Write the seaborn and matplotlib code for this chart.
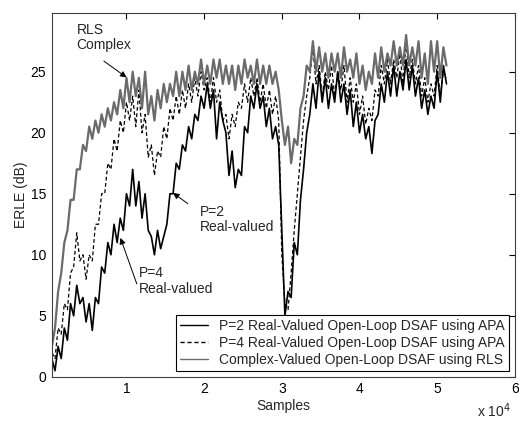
import numpy as np
import pandas as pd
import matplotlib
matplotlib.use("Agg")
import matplotlib.pyplot as plt
import seaborn as sns

# sample grid (x 10^4 samples), one point every 400 samples
samples = np.arange(129) * 0.04

rls_complex = [
    0, 2.5, 4, 7, 8.5, 11, 12, 14.5, 14.5, 17,
    17, 19, 18.5, 20.5, 19.5, 21, 20, 21.5, 20.5, 22,
    21, 22.5, 21.5, 23.5, 22, 24.5, 22.5, 25, 23, 24.5,
    22, 25, 21.5, 23, 21, 23.5, 22, 24, 22.5, 24,
    23, 25, 23, 25, 23.5, 25.5, 23.5, 25, 24, 26,
    24, 25.5, 24, 26, 24.5, 26, 24, 25.5, 24, 25.5,
    23.5, 25.5, 24, 26, 24.5, 25.5, 24, 26, 24, 25.5,
    24, 25.5, 24, 25, 23.5, 21, 19, 20.5, 17.5, 19.5,
    19, 22, 23, 25.5, 25, 27.5, 25, 27, 25, 26.5,
    24.5, 26.5, 25, 26.5, 24.5, 27, 25, 26, 24.5, 26.5,
    24, 25.5, 23.5, 25, 24, 26.5, 24.5, 27, 25, 26.5,
    25.5, 27.5, 25.5, 27, 25.5, 28, 25.5, 27, 25.5, 27.5,
    24.5, 26.5, 24, 27.5, 25, 27.5, 24.5, 27, 25.5,
]

apa_p2 = [
    0, 1.5, 0.5, 2.5, 1.5, 4, 3, 6, 5, 7.5,
    6, 6.5, 4.5, 6, 3.8, 6.5, 6, 9, 8.5, 11,
    10, 12.5, 11, 13, 12, 15, 14, 17, 14, 16,
    13, 15, 12, 11.5, 10, 12, 10.5, 11.5, 12.5, 15,
    15, 17.5, 17, 19, 18.5, 20.5, 19.5, 21.5, 21, 23,
    22, 24, 22, 23.5, 19.5, 22.5, 21, 20, 16.5, 18.5,
    15.5, 17, 16.5, 20.5, 20, 23, 22, 24, 22, 23,
    20.5, 22, 19.5, 20.5, 19, 12, 5, 7, 6.5, 11,
    10, 14.5, 17, 20, 21.5, 24, 22, 25, 22.5, 24.5,
    22, 24, 22.5, 25, 22.5, 24, 21.5, 23.5, 20.5, 22.5,
    20, 21.5, 19.5, 20.5, 18.3, 21, 21.5, 24, 22.5, 25,
    23, 25.5, 23, 25, 23.5, 26, 23.5, 25.5, 23, 24.5,
    22, 23.5, 21.5, 23, 22, 25, 22.5, 25.5, 24,
]

apa_p4 = [
    0, 2, 1.5, 4, 3.5, 6, 5.5, 8.5, 9, 11.8,
    9.5, 10, 8, 10, 9.5, 12.5, 12.5, 15, 15, 17.5,
    17, 19.5, 18.5, 21, 20, 22.5, 21, 23, 20.5, 23.5,
    20, 21.5, 18, 19, 16.5, 18.5, 18, 20.5, 19.5, 22,
    21, 23, 21.5, 23.5, 22, 24, 22.5, 24.5, 23, 25,
    23.5, 24.5, 22.5, 24.5, 22.5, 23.5, 21, 21.5, 19.5, 21.5,
    20.5, 22.5, 22, 24, 22.5, 24.5, 23, 24.5, 22.5, 24,
    22, 23.5, 21.5, 23, 21, 10, 6, 5.5, 8.5, 12,
    15, 18, 21, 23, 24.5, 27, 24, 25.5, 23, 25,
    23.5, 25.5, 23, 25, 23.5, 25.5, 22.5, 24.5, 22.5, 24,
    21.5, 23, 20.7, 22, 21, 23.5, 23, 25.5, 24, 26,
    24, 26, 24.5, 26.5, 24, 27.5, 24.5, 26, 24, 25.5,
    23, 24.5, 22.5, 24, 23, 25.5, 23, 25, 24.5,
]

labels = [
    "P=2 Real-Valued Open-Loop DSAF using APA",
    "P=4 Real-Valued Open-Loop DSAF using APA",
    "Complex-Valued Open-Loop DSAF using RLS",
]
xticks = [1, 2, 3, 4, 5, 6]
yticks = [0, 5, 10, 15, 20, 25]

sns.set_theme(style="white")
plt.rcParams["font.family"] = ["Liberation Sans", "DejaVu Sans"]
plt.rcParams["font.size"] = 10

fig = plt.figure(figsize=(5.19, 4.22), dpi=100)
ax = fig.add_axes([0.100, 0.107, 0.892, 0.862])

df = pd.DataFrame({"x": samples, "p2": apa_p2, "p4": apa_p4, "rls": rls_complex})

sns.lineplot(data=df, x="x", y="p2", ax=ax, color="black", lw=1.2,
             label=labels[0], estimator=None, sort=False)
sns.lineplot(data=df, x="x", y="p4", ax=ax, color="black", lw=0.9,
             linestyle=(0, (3, 2)), label=labels[1], estimator=None, sort=False)
sns.lineplot(data=df, x="x", y="rls", ax=ax, color="#6b6b6b", lw=1.6,
             label=labels[2], estimator=None, sort=False)

ax.set_xlim(0.04, 6.0)
ax.set_ylim(0, 29.8)
ax.set_xticks(xticks)
ax.set_xticklabels([str(t) for t in xticks])
ax.set_yticks(yticks)
ax.set_yticklabels([str(t) for t in yticks])
ax.tick_params(direction="in", length=4, width=0.8, top=True, right=True,
               labelsize=10, colors="black", pad=4)
for s in ax.spines.values():
    s.set_color("#404040")
    s.set_linewidth(0.8)
    s.set_visible(True)

ax.set_xlabel("Samples", fontsize=10, labelpad=2)
ax.set_ylabel("ERLE (dB)", fontsize=10, labelpad=2)
fig.text(0.985, 0.012, "x 10$^{4}$", fontsize=10, ha="right")

leg = ax.legend(loc="lower right", bbox_to_anchor=(0.987, 0.016),
                borderaxespad=0, fancybox=False, edgecolor="black",
                framealpha=1, fontsize=10, handlelength=2.0,
                handletextpad=0.8, labelspacing=0.2, borderpad=0.3)
leg.get_frame().set_linewidth(0.8)
for line in leg.get_lines():
    line.set_linewidth(1.0)

arrow = dict(arrowstyle="-|>", color="black", lw=0.7, mutation_scale=9)
ax.text(0.356, 27.8, "RLS\nComplex", fontsize=10, va="center", ha="left",
        linespacing=1.1)
ax.annotate("", xy=(1.03, 24.4), xytext=(0.68, 26.0), arrowprops=arrow)

ax.text(1.94, 12.9, "P=2\nReal-valued", fontsize=10, va="center", ha="left",
        linespacing=1.1)
ax.annotate("", xy=(1.57, 15.2), xytext=(1.82, 14.05), arrowprops=arrow)

ax.text(1.158, 7.85, "P=4\nReal-valued", fontsize=10, va="center", ha="left",
        linespacing=1.1)
ax.annotate("", xy=(0.91, 11.6), xytext=(1.145, 7.4), arrowprops=arrow)

fig.savefig("out.png", dpi=100)
